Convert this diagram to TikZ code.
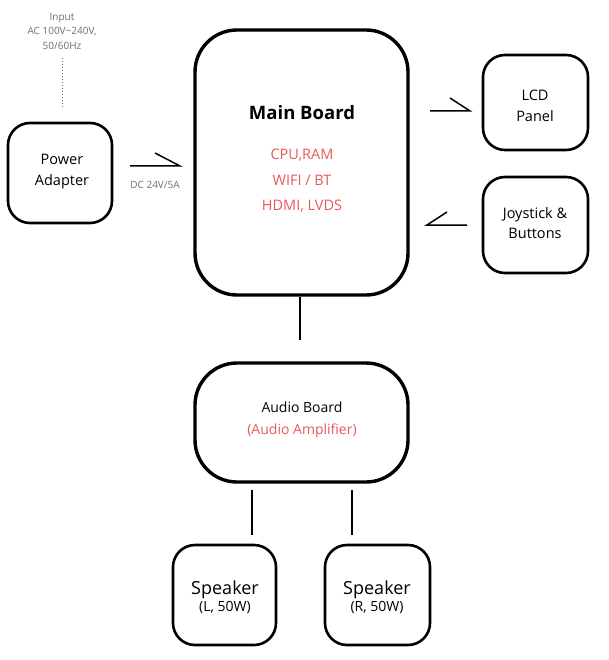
\documentclass[tikz,border=0pt]{standalone}
\usepackage{fontspec}
\setmainfont{Open Sans}
\definecolor{rd}{HTML}{E8585A}
\definecolor{gy}{HTML}{6E6E6E}
\begin{document}
\begin{tikzpicture}[x=1pt,y=-1pt,
  box/.style={draw,line width=2.6pt,rounded corners=22pt},
  big/.style={draw,line width=3.4pt,rounded corners=42pt},
  ln/.style={line width=1.5pt},
  t/.style={inner sep=0,align=center}]
\useasboundingbox (0,0) rectangle (609,660);
\draw[box] (8,123) rectangle (112,223);
\draw[big] (195,30) rectangle (408,295);
\draw[box] (483,55) rectangle (588,150);
\draw[box] (483,177) rectangle (588,273);
\draw[big] (195,363) rectangle (408,482);
\draw[box] (173,545) rectangle (276,645);
\draw[box] (325,545) rectangle (430,645);
% texts
\node[t,text=gy,font=\fontsize{10}{14.5}\selectfont] (in) at (62,31) {Input\\AC 100V\textasciitilde240V,\\50/60Hz};
\node[t,font=\fontsize{14.5}{21}\selectfont] (pa) at (62,172) {Power\\Adapter};
\node[t,text=gy,font=\fontsize{10}{12}\selectfont] (dc) at (155,185) {DC 24V/5A};
\node[t,font=\bfseries\fontsize{18.5}{22}\selectfont] (mb) at (302,113) {Main Board};
\node[t,text=rd,font=\fontsize{14.5}{25.5}\selectfont] (mbt) at (302,181) {CPU,RAM\\WIFI / BT\\HDMI, LVDS};
\node[t,font=\fontsize{14.5}{20.5}\selectfont] (lcd) at (535,106) {LCD\\Panel};
\node[t,font=\fontsize{14.5}{20.5}\selectfont] (js) at (535,223) {Joystick \&\\Buttons};
\node[t,font=\fontsize{14}{22}\selectfont] (ab) at (302,420) {Audio Board\\\textcolor{rd}{(Audio Amplifier)}};
\node[t] (sl) at (225,597) {{\fontsize{18}{20}\selectfont Speaker}\\[2pt]{\fontsize{14}{16}\selectfont (L, 50W)}};
\node[t] (sr) at (377,597) {{\fontsize{18}{20}\selectfont Speaker}\\[2pt]{\fontsize{14}{16}\selectfont (R, 50W)}};
% connectors
\coordinate (d1) at (62,58); \coordinate (d2) at (62,108);
\draw[line width=1pt,dotted,gy] (d1) -- (d2);
\coordinate (p1) at (130,166); \coordinate (p2) at (180,166); \coordinate (p3) at (155,153);
\draw[ln] (p1) -- (p2) -- (p3);
\coordinate (l1) at (430,111); \coordinate (l2) at (470,111); \coordinate (l3) at (450,98);
\draw[ln] (l1) -- (l2) -- (l3);
\coordinate (j1) at (467,225); \coordinate (j2) at (427,225); \coordinate (j3) at (447,212);
\draw[ln] (j1) -- (j2) -- (j3);
\coordinate (m1) at (300,297); \coordinate (m2) at (300,340);
\draw[ln] (m1) -- (m2);
\coordinate (s1) at (252,490); \coordinate (s2) at (252,535);
\draw[ln] (s1) -- (s2);
\coordinate (r1) at (352,490); \coordinate (r2) at (352,535);
\draw[ln] (r1) -- (r2);
\end{tikzpicture}
\end{document}
